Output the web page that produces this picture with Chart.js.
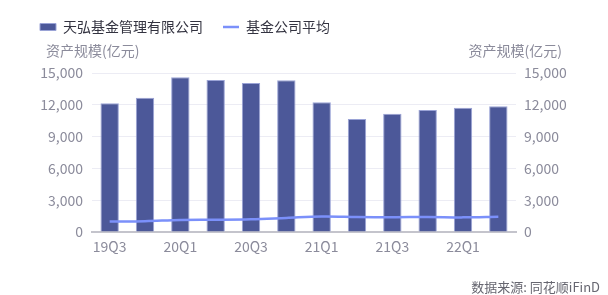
<!DOCTYPE html>
<html>
<head>
<meta charset="utf-8">
<script src="https://cdn.jsdelivr.net/npm/chart.js@4.4.0/dist/chart.umd.min.js"></script>
<style>
  html, body { margin: 0; padding: 0; background: #fff; }
  #wrap { width: 608px; height: 295px; }
</style>
</head>
<body>
<div id="wrap"><canvas id="c"></canvas></div>
<script>
var quarters = ['19Q3', '19Q4', '20Q1', '20Q2', '20Q3', '20Q4', '21Q1', '21Q2', '21Q3', '21Q4', '22Q1', '22Q2'];
var tianhong = [12150, 12670, 14590, 14340, 14060, 14310, 12230, 10660, 11160, 11510, 11730, 11860];
var fundAvg = [980, 1020, 1130, 1150, 1200, 1330, 1460, 1420, 1390, 1420, 1380, 1450];
var yTicks = [0, 3000, 6000, 9000, 12000, 15000];

var FONT = '"Noto Sans CJK SC", "Noto Sans", sans-serif';
var tickColor = '#8b8b9b';

var extras = {
    id: 'extras',
    beforeInit: function (chart) {
        var fit = chart.legend.fit;
        chart.legend.fit = function () {
            fit.bind(chart.legend)();
            this.height = 73;
        };
    },
    afterDraw: function (chart) {
        var ctx = chart.ctx;
        ctx.save();
        ctx.font = '14px ' + FONT;
        ctx.fillStyle = tickColor;
        ctx.textBaseline = 'middle';
        ctx.textAlign = 'left';
        ctx.fillText('资产规模(亿元)', 46, 51);
        ctx.textAlign = 'right';
        ctx.fillText('资产规模(亿元)', 562, 51);
        ctx.font = '13px ' + FONT;
        ctx.fillStyle = '#666670';
        ctx.fillText('数据来源: 同花顺iFinD', 600, 287);
        ctx.restore();
    }
};

new Chart(document.getElementById('c'), {
    data: {
        labels: quarters,
        datasets: [
            {
                type: 'line',
                label: '基金公司平均',
                data: fundAvg,
                borderColor: '#7b90fa',
                backgroundColor: '#7b90fa',
                borderWidth: 2.5,
                pointRadius: 0,
                pointStyle: 'line',
                tension: 0.35,
                yAxisID: 'y',
                order: 0
            },
            {
                type: 'bar',
                label: '天弘基金管理有限公司',
                data: tianhong,
                backgroundColor: '#4c5899',
                borderColor: '#9aa3d6',
                borderWidth: 1,
                pointStyle: 'rect',
                categoryPercentage: 1,
                barPercentage: 0.52,
                yAxisID: 'y',
                order: 1
            }
        ]
    },
    options: {
        responsive: true,
        maintainAspectRatio: false,
        animation: false,
        layout: { padding: { left: 20, right: 0, top: 0, bottom: 0 } },
        plugins: {
            legend: {
                position: 'top',
                align: 'start',
                reverse: true,
                labels: {
                    usePointStyle: true,
                    pointStyleWidth: 16,
                    boxHeight: 7,
                    padding: 20,
                    color: '#333340',
                    font: { family: FONT, size: 14 }
                }
            },
            tooltip: { enabled: false }
        },
        scales: {
            x: {
                grid: { display: false, drawTicks: false },
                border: { display: true, color: '#c4c4cc', width: 2 },
                afterFit: function (s) { s.height = 63; },
                ticks: {
                    autoSkip: false,
                    maxRotation: 0,
                    padding: 6,
                    color: tickColor,
                    font: { family: FONT, size: 14 },
                    callback: function (v, i) { return i % 2 === 0 ? quarters[i] : ''; }
                }
            },
            y: {
                position: 'left',
                min: 0,
                max: 15000,
                afterFit: function (s) { s.width = 72; },
                afterBuildTicks: function (s) { s.ticks = yTicks.map(function (v) { return { value: v }; }); },
                grid: { color: '#ececf4', drawTicks: false },
                border: { display: false },
                ticks: {
                    padding: 9,
                    color: tickColor,
                    font: { family: FONT, size: 14 },
                    callback: function (v) { return v.toLocaleString('en-US'); }
                }
            },
            y1: {
                position: 'right',
                min: 0,
                max: 15000,
                afterFit: function (s) { s.width = 92; },
                afterBuildTicks: function (s) { s.ticks = yTicks.map(function (v) { return { value: v }; }); },
                grid: { display: false, drawTicks: false },
                border: { display: false },
                ticks: {
                    padding: 8,
                    color: tickColor,
                    font: { family: FONT, size: 14 },
                    callback: function (v) { return v.toLocaleString('en-US'); }
                }
            }
        }
    },
    plugins: [extras]
});
</script>
</body>
</html>
